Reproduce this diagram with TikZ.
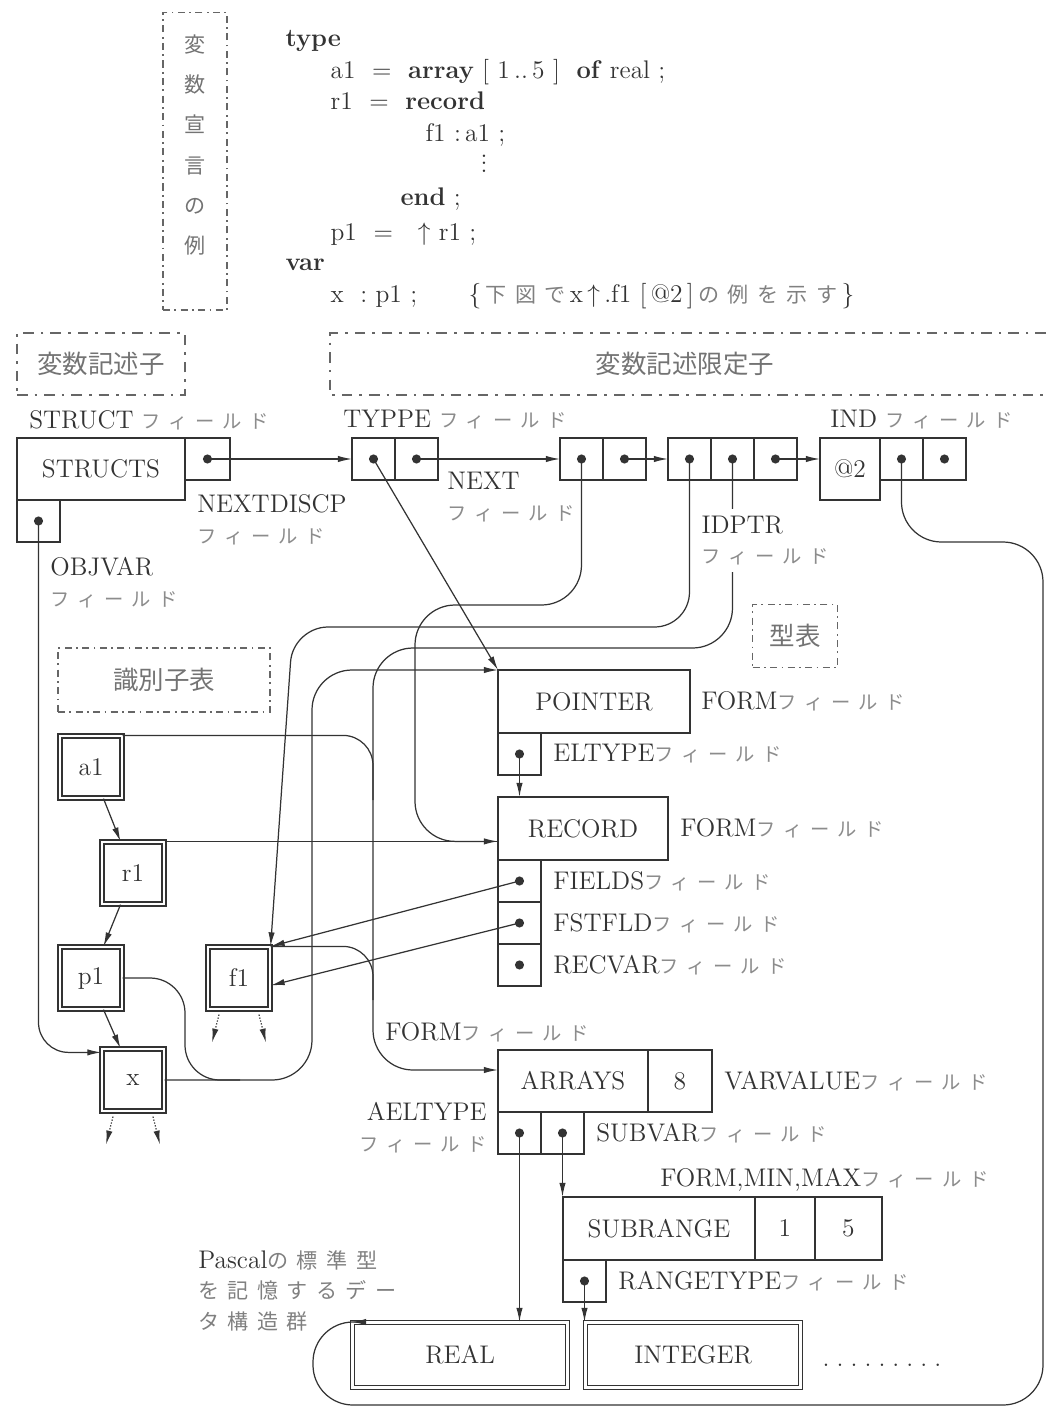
\documentclass[tikz,border=0pt]{standalone}
\usepackage{fontspec}
\usetikzlibrary{arrows.meta,positioning}
\newfontfamily\jp{Noto Sans CJK JP}
\newfontfamily\jpsp[LetterSpace=40]{Noto Sans CJK JP}
\newcommand\fd{{\jpsp\fontsize{11}{13}\selectfont\color{black!45}フィールド}}
\newcommand\jpt[1]{{\jpsp\fontsize{12}{17.5}\selectfont\color{black!50}#1}}

\begin{document}
\begin{tikzpicture}[x=0.02cm,y=-0.02cm,>={Latex[length=8pt,width=3.6pt]},
  color=black!80, line width=0.7pt,
  every node/.style={font=\fontsize{14.5}{17.5}\selectfont},
  box/.style={draw,inner sep=0pt,outer sep=0pt},
  cell/.style={box,minimum width=0.86cm,minimum height=0.84cm},
  ptr/.style={cell,path picture={\fill (path picture bounding box.center) circle (2.6pt);}},
  idb/.style={draw,double,double distance=1.6pt,inner sep=0pt,minimum size=1.24cm},
  grp/.style={draw,color=black!60,line width=0.6pt,dash pattern=on 4pt off 2.5pt on 1pt off 2.5pt},
  grpb/.style={grp,line width=1.6pt,dash pattern=on 6pt off 4pt on 1.5pt off 4pt},
  gtxt/.style={font=\jp\fontsize{14.5}{16}\selectfont,text=black!55},
  code/.style={anchor=base west,inner sep=0pt},
  lbl/.style={inner sep=1pt,align=left}]
\useasboundingbox (0,0) rectangle (1046,1407);

\node[grp,minimum width=1.28cm,minimum height=5.96cm] (decl) at (195,161) {};
\node[gtxt,align=center,font=\jp\fontsize{12}{22.8}\selectfont] (decltxt) at (195,145) {変\\数\\宣\\言\\の\\例};
\node[code] (ktype) at (285,46) {\textbf{type}};
\node[code] (la1) at (330,78) {a1\ \ =\ \ \textbf{array}\ [\ 1\,..\,5\ ]\ \ \textbf{of}\ real\ ;};
\node[code] (lr1) at (330,109) {r1\ \ =\ \ \textbf{record}};
\node[code] (lf1) at (425,141) {f1\ :\,a1\ ;};
\node[code] (vdots) at (480,172) {$\vdots$};
\node[code] (lend) at (400,205) {\textbf{end}\ ;};
\node[code] (lp1) at (330,240) {p1\ \ =\ \ \ $\uparrow$\ r1\ ;};
\node[code] (kvar) at (285,270) {\textbf{var}};
\node[code] (lx) at (330,302) {x\ \ :\ p1\ ;};
\node[code] (cmt) at (468,302) {\{\,\jpt{下図で}\,x\,$\uparrow$\,.f1\ [\,@2\,]\,\jpt{の例を示す}\,\}};

\node[grpb,gtxt,minimum width=3.36cm,minimum height=1.24cm] (desc) at (101,364) {変数記述子};
\draw[grpb] (1046,333) -| (330,395) -- (1046,395);
\node[gtxt] (qual) at (685,364) {変数記述限定子};
\node[grp,gtxt,minimum width=4.24cm,minimum height=1.28cm] (idtab) at (164,680) {識別子表};
\node[grp,gtxt,minimum width=1.7cm,minimum height=1.26cm] (typtab) at (795,636) {型表};

\node[box,minimum width=3.36cm,minimum height=1.24cm,anchor=north west] (structs) at (17,438) {STRUCTS};
\node[ptr,minimum width=0.9cm,anchor=north west] (nextd) at (structs.north east) {};
\node[ptr,anchor=north west] (objv) at (structs.south west) {};
\node[ptr,anchor=north west] (d1a) at (352,438) {};
\node[ptr,right=0pt of d1a] (d1b) {};
\node[ptr,anchor=north west] (d2a) at (560,438) {};
\node[ptr,right=0pt of d2a] (d2b) {};
\node[ptr,anchor=north west] (d3a) at (668,438) {};
\node[ptr,right=0pt of d3a] (d3b) {};
\node[ptr,right=0pt of d3b] (d3c) {};
\node[box,minimum width=1.2cm,minimum height=1.24cm,anchor=north west] (at2) at (820,438) {@2};
\node[ptr,anchor=north west] (d4a) at (at2.north east) {};
\node[ptr,right=0pt of d4a] (d4b) {};

\node[box,minimum width=3.84cm,minimum height=1.26cm,anchor=north west] (pointer) at (498,670) {POINTER};
\node[ptr,anchor=north west] (eltype) at (pointer.south west) {};
\node[box,minimum width=3.4cm,minimum height=1.26cm,anchor=north west] (record) at (498,797) {RECORD};
\node[ptr,anchor=north west] (fields) at (record.south west) {};
\node[ptr,anchor=north west] (fstfld) at (fields.south west) {};
\node[ptr,anchor=north west] (recvar) at (fstfld.south west) {};
\node[box,minimum width=3cm,minimum height=1.24cm,anchor=north west] (arrays) at (498,1050) {ARRAYS};
\node[box,minimum width=1.28cm,minimum height=1.24cm,right=0pt of arrays] (eight) {8};
\node[ptr,anchor=north west] (ael) at (arrays.south west) {};
\node[ptr,right=0pt of ael] (sub) {};
\node[box,minimum width=3.84cm,minimum height=1.26cm,anchor=north west] (subrange) at (563,1197) {SUBRANGE};
\node[box,minimum width=1.2cm,minimum height=1.26cm,right=0pt of subrange] (lo) {1};
\node[box,minimum width=1.34cm,minimum height=1.26cm,right=0pt of lo] (hi) {5};
\node[ptr,anchor=north west] (rt) at (subrange.south west) {};
\node[idb,minimum width=4.3cm,minimum height=1.3cm,anchor=north west] (real) at (352,1322) {REAL};
\node[idb,minimum width=4.3cm,minimum height=1.3cm,anchor=north west] (integer) at (585,1322) {INTEGER};
\node (etc) at (882,1365) {.\hspace{4pt}.\hspace{4pt}.\hspace{4pt}.\hspace{4pt}.\hspace{4pt}.\hspace{4pt}.\hspace{4pt}.\hspace{4pt}.};

\node[idb] (ida1) at (91,767) {a1};
\node[idb] (idr1) at (133,873) {r1};
\node[idb] (idp1) at (91,978) {p1};
\node[idb] (idf1) at (239,978) {f1};
\node[idb] (idx) at (133,1080) {x};

\draw[->] (nextd.center) -- (d1a.west);
\draw[->] (d1b.center) -- (d2a.west);
\draw[->] (d2b.center) -- (d3a.west);
\draw[->] (d3c.center) -- (d3c.center -| at2.west);
\draw[->] (d1a.center) -- (pointer.north west);
\draw[->,rounded corners=0.8cm] (d2a.center) |- (415,605) |- (idr1.north east -| record.west);
\draw[->,rounded corners=0.7cm] (d3a.center) |- (293,627) -- (idf1.north east);
\draw[->,rounded corners=0.8cm] (d3b.center) |- (373,648) |- ([yshift=0.22cm]arrays.west);
\draw[rounded corners=0.6cm] (ida1.north east) -| (373,800);
\draw[rounded corners=0.6cm] (idf1.north east) -| (373,1000);
\draw (idr1.north east) -- (record.west |- idr1.north east);
\draw[->,rounded corners=0.8cm] (idx.east) -| (312,670) -- (pointer.north west);
\draw[rounded corners=0.7cm] (idp1.east) -| (185,1080) -- (240,1080);
\draw[->,rounded corners=0.6cm] (objv.center) |- ([yshift=-0.08cm]idx.north west);
\draw[->] ([xshift=0.25cm]ida1.south) -- ([xshift=-0.25cm]idr1.north);
\draw[->] ([xshift=-0.25cm]idr1.south) -- ([xshift=0.25cm]idp1.north);
\draw[->] ([xshift=0.25cm]idp1.south) -- ([xshift=-0.25cm]idx.north);
\foreach \n in {idf1,idx} {
  \draw[->,densely dotted] ([xshift=-0.4cm,yshift=-0.1cm]\n.south) -- ++(-7,28);
  \draw[->,densely dotted] ([xshift=0.4cm,yshift=-0.1cm]\n.south) -- ++(7,28);
}
\draw[->] (fields.center) -- (idf1.north east);
\draw[->] (fstfld.center) -- ([yshift=-0.15cm]idf1.east);
\draw[->] (eltype.center) -- (eltype.center |- record.north);
\draw[->] (ael.center) -- (ael.center |- real.north);
\draw[->] (sub.center) -- (sub.center |- subrange.north);
\draw[->] (rt.center) -- (rt.center |- integer.north);
\draw[->,rounded corners=0.8cm] (d4a.center) |- (1043,542) |- (313,1405) |- (real.north west);

\node[lbl,anchor=west] (lstruct) at (27,420) {STRUCT\ \fd};
\node[lbl,anchor=west] (ltyppe) at (341,420) {TYPPE\ \fd};
\node[lbl,anchor=west] (lind) at (828,420) {IND\ \fd};
\node[lbl,anchor=north west] (lnextd) at (195,492) {NEXTDISCP\\\fd};
\node[lbl,anchor=north west] (lnext) at (445,470) {NEXT\\\fd};
\node[lbl,anchor=north west,fill=white,inner sep=4pt] (lidptr) at (694,508) {IDPTR\\\fd};
\node[lbl,anchor=north west] (lobjv) at (48,555) {OBJVAR\\\fd};
\node[lbl,right=0.18cm of pointer] (lform1) {FORM\fd};
\node[lbl,right=0.2cm of eltype] (lelt) {ELTYPE\fd};
\node[lbl,right=0.2cm of record] (lform2) {FORM\fd};
\node[lbl,right=0.2cm of fields] (lfields) {FIELDS\fd};
\node[lbl,right=0.2cm of fstfld] (lfst) {FSTFLD\fd};
\node[lbl,right=0.2cm of recvar] (lrecv) {RECVAR\fd};
\node[lbl,anchor=west] (lform3) at (383,1032) {FORM\fd};
\node[lbl,right=0.2cm of eight] (lvarv) {VARVALUE\fd};
\node[lbl,anchor=north east,align=right] (lael) at (489,1100) {AELTYPE\\\fd};
\node[lbl,right=0.2cm of sub] (lsub) {SUBVAR\fd};
\node[lbl,anchor=west] (lfmm) at (658,1180) {FORM,MIN,MAX\fd};
\node[lbl,right=0.2cm of rt] (lrt) {RANGETYPE\fd};
\node[lbl,anchor=north west] (lstd) at (196,1248) {Pascal\jpt{の標準型}\\\jpt{を記憶するデー}\\\jpt{タ構造群}};
\end{tikzpicture}
\end{document}
